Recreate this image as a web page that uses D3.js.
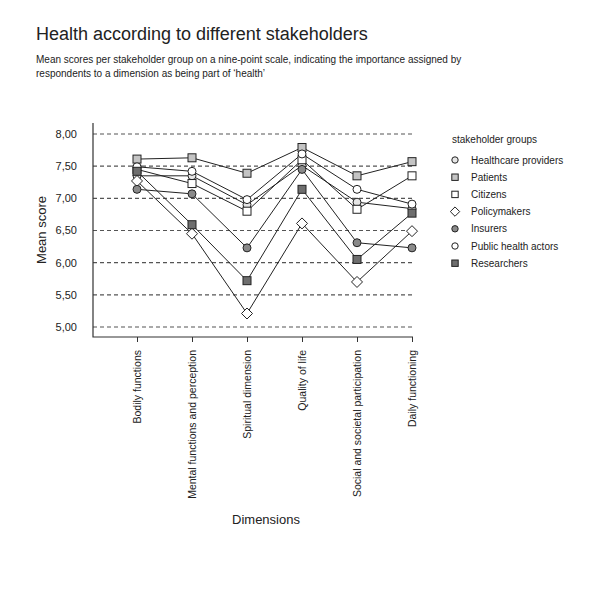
<!DOCTYPE html>
<html><head><meta charset="utf-8">
<script src="https://cdn.jsdelivr.net/npm/d3@7"></script>
<style>body{margin:0;background:#fff}text{font-family:Arial,"Liberation Sans",sans-serif;fill:#222}</style>
</head><body>
<svg id="c" width="600" height="600"></svg>
<script>
const dimensions = ["Bodily functions","Mental functions and perception","Spiritual dimension","Quality of life","Social and societal participation","Daily functioning"];
const groups = ["Healthcare providers","Patients","Citizens","Policymakers","Insurers","Public health actors","Researchers"];
const healthcareProviders = [7.35,7.35,6.90,7.51,6.94,6.84];
const patients = [7.61,7.63,7.39,7.79,7.35,7.57];
const citizens = [7.45,7.23,6.80,7.60,6.83,7.35];
const policymakers = [7.27,6.45,5.21,6.61,5.70,6.49];
const insurers = [7.14,7.07,6.23,7.45,6.31,6.23];
const publicHealthActors = [7.49,7.42,6.98,7.69,7.14,6.91];
const researchers = [7.42,6.59,5.72,7.14,6.05,6.77];
const yTicks = [5,5.5,6,6.5,7,7.5,8];
const tickLabels = ["5,00","5,50","6,00","6,50","7,00","7,50","8,00"];

const seriesValues = [healthcareProviders,patients,citizens,policymakers,insurers,publicHealthActors,researchers];
const shapes = ["circle","square","square","diamond","circle","circle","square"];
const fills = ["#e6e6e6","#c4c4c4","#ffffff","#ffffff","#8a8a8a","#ffffff","#6e6e6e"];

const svg = d3.select("#c");
const x = d3.scalePoint().domain(dimensions).range([137,412]);
const y = d3.scaleLinear().domain([5,8]).range([327,134]);
const axLeft = 93, axRight = 413, axTop = 123, axBottom = 337;

svg.append("text").attr("x",36).attr("y",40).style("font-size","18px").text("Health according to different stakeholders");
svg.append("text").attr("x",36).attr("y",63).style("font-size","10px").text("Mean scores per stakeholder group on a nine-point scale, indicating the importance assigned by");
svg.append("text").attr("x",36).attr("y",77).style("font-size","10px").text("respondents to a dimension as being part of \u2018health\u2019");

svg.append("g").selectAll("line").data(yTicks).join("line")
  .attr("x1",axLeft).attr("x2",axRight).attr("y1",d=>y(d)).attr("y2",d=>y(d))
  .attr("stroke","#555").attr("stroke-width",1.1).attr("stroke-dasharray","4,3");
svg.append("g").selectAll("text").data(yTicks).join("text")
  .attr("x",77).attr("y",d=>y(d)).attr("dy","0.35em").attr("text-anchor","end")
  .style("font-size","11px").text((d,i)=>tickLabels[i]);

svg.append("path").attr("d",`M${axLeft},${axTop}V${axBottom}H${axRight}`).attr("fill","none").attr("stroke","#333").attr("stroke-width",1.2);
const xa = svg.append("g").attr("transform",`translate(0,${axBottom})`)
  .call(d3.axisBottom(x).tickSize(5).tickFormat(""));
xa.select(".domain").remove();
xa.selectAll("line").attr("stroke","#333");
svg.append("g").selectAll("text").data(dimensions).join("text")
  .attr("transform",d=>`translate(${x(d)},350) rotate(-90)`)
  .attr("text-anchor","end").attr("dy","0.35em").style("font-size","10.5px").text(d=>d);

svg.append("text").attr("transform","translate(46,230) rotate(-90)").attr("text-anchor","middle").style("font-size","13px").text("Mean score");
svg.append("text").attr("x",266).attr("y",524).attr("text-anchor","middle").style("font-size","13px").text("Dimensions");

const line = d3.line().x((d,i)=>x(dimensions[i])).y(d=>y(d));
svg.append("g").selectAll("path").data(seriesValues).join("path")
  .attr("d",line).attr("fill","none").attr("stroke","#222").attr("stroke-width",1);

function marker(g, shape, fill, cx, cy, s) {
  let m;
  if (shape==="circle") m = g.append("circle").attr("cx",cx).attr("cy",cy).attr("r",4*s);
  else if (shape==="square") m = g.append("rect").attr("x",cx-4*s).attr("y",cy-4*s).attr("width",8*s).attr("height",8*s);
  else m = g.append("path").attr("d",`M${cx},${cy-5.5*s}L${cx+5.5*s},${cy}L${cx},${cy+5.5*s}L${cx-5.5*s},${cy}Z`);
  m.attr("fill",fill).attr("stroke","#222").attr("stroke-width",1);
}
seriesValues.forEach((vals,k)=>{
  const g = svg.append("g");
  vals.forEach((v,i)=> marker(g, shapes[k], fills[k], x(dimensions[i]), y(v), 1));
});

const lg = svg.append("g");
lg.append("text").attr("x",452).attr("y",143).style("font-size","10px").text("stakeholder groups");
groups.forEach((gname,k)=>{
  const yy = 160 + k*17.2;
  marker(lg, shapes[k], fills[k], 455, yy, shapes[k]==="diamond"?0.85:0.8);
  lg.append("text").attr("x",471).attr("y",yy).attr("dy","0.35em").style("font-size","10px").text(gname);
});
</script>
</body></html>
